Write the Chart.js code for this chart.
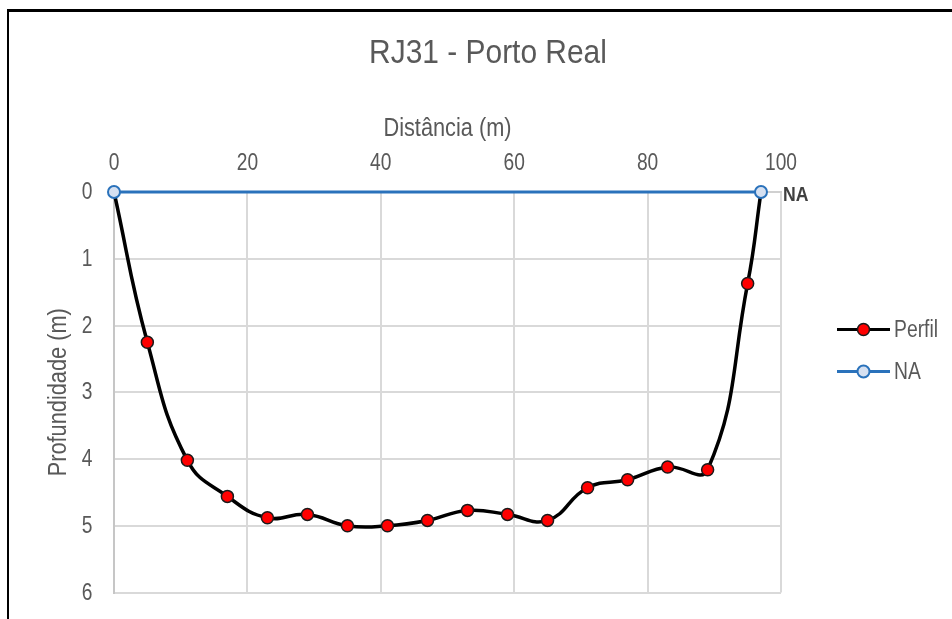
<!DOCTYPE html>
<html lang="pt">
<head>
<meta charset="utf-8">
<title>RJ31 - Porto Real</title>
<script src="https://cdn.jsdelivr.net/npm/chart.js@4"></script>
<style>
  html, body { margin: 0; padding: 0; background: #fff; }
  #wrap { position: relative; width: 952px; height: 619px; overflow: hidden; }
  #frame { position: absolute; left: 7px; top: 9px; width: 1000px; height: 700px;
           border-left: 2px solid #000; border-top: 3px solid #000; }
  canvas { position: absolute; left: 0; top: 0; }
</style>
</head>
<body>
<div id="wrap">
  <div id="frame"></div>
  <canvas id="perfilChart" width="952" height="619"></canvas>
</div>
<script>
// Perfil batimétrico (distância x profundidade)
const perfilDist = [0, 5, 11, 17, 23, 29, 35, 41, 47, 53, 59, 65, 71, 77, 83, 89, 95, 97];
const perfilProf = [0, 2.25, 4.02, 4.56, 4.88, 4.83, 5.0, 5.0, 4.92, 4.77, 4.83, 4.92, 4.43, 4.31, 4.12, 4.16, 1.37, 0];
// Nível d'água
const naDist = [0, 97];
const naProf = [0, 0];

const titulo = "RJ31 - Porto Real";
const tituloX = "Distância (m)";
const tituloY = "Profundidade (m)";
const xTicks = [0, 20, 40, 60, 80, 100];
const yTicks = [0, 1, 2, 3, 4, 5, 6];

const fonte = "'Liberation Sans', Arial, sans-serif";
const cinza = "#595959";

Chart.defaults.font.family = fonte;
Chart.defaults.color = cinza;

function pares(xs, ys) {
    return xs.map((x, i) => ({ x: x, y: ys[i] }));
}

// narrow text: regular face squeezed horizontally
function texto(ctx, str, x, y, font, align, sx, rot) {
    ctx.save();
    ctx.translate(x, y);
    if (rot) ctx.rotate(rot);
    ctx.scale(sx, 1);
    ctx.font = font;
    ctx.textAlign = align;
    ctx.textBaseline = "middle";
    ctx.fillText(str, 0, 0);
    ctx.restore();
}

// title, axis labels, side legend and the "NA" tag
const extras = {
    id: "extras",
    afterDraw(chart) {
        const ctx = chart.ctx;
        const sx = chart.scales.x;
        const sy = chart.scales.y;
        ctx.save();
        ctx.fillStyle = cinza;

        texto(ctx, titulo, 488, 54, "34px " + fonte, "center", 0.88);

        sx.ticks.forEach(t => {
            texto(ctx, String(t.value), sx.getPixelForValue(t.value), 163.5, "24px " + fonte, "center", 0.8);
        });
        sy.ticks.forEach(t => {
            texto(ctx, String(t.value), 92.5, sy.getPixelForValue(t.value) + 0.5, "24px " + fonte, "right", 0.8);
        });
        texto(ctx, tituloX, (sx.left + sx.right) / 2, 129.5, "25px " + fonte, "center", 0.87);
        texto(ctx, tituloY, 59.5, (sy.top + sy.bottom) / 2, "25px " + fonte, "center", 0.87, -Math.PI / 2);

        // legend entries
        const itens = [chart.data.datasets[1], chart.data.datasets[0]];
        itens.forEach((ds, i) => {
            const y = 329.5 + i * 42;
            ctx.strokeStyle = ds.borderColor;
            ctx.lineWidth = 3;
            ctx.beginPath();
            ctx.moveTo(837, y);
            ctx.lineTo(890, y);
            ctx.stroke();
            ctx.beginPath();
            ctx.arc(863.5, y, 6, 0, Math.PI * 2);
            ctx.fillStyle = ds.pointBackgroundColor;
            ctx.fill();
            ctx.lineWidth = ds.pointBorderWidth;
            ctx.strokeStyle = ds.pointBorderColor;
            ctx.stroke();
            ctx.fillStyle = cinza;
            texto(ctx, ds.label, 894, y + 1, "23px " + fonte, "left", 0.84);
        });

        // series name at the end of the water line
        const meta = chart.getDatasetMeta(0);
        const ult = meta.data[meta.data.length - 1];
        ctx.fillStyle = "#404040";
        texto(ctx, "NA", ult.x + 22, ult.y + 3, "bold 21px " + fonte, "left", 0.84);

        ctx.restore();
    }
};

const ctx = document.getElementById("perfilChart").getContext("2d");
new Chart(ctx, {
    type: "scatter",
    data: {
        datasets: [{
            label: "NA",
            data: pares(naDist, naProf),
            showLine: true,
            borderColor: "#2a72bb",
            borderWidth: 3,
            pointRadius: 6,
            pointBackgroundColor: "#d5e0f1",
            pointBorderColor: "#2a72bb",
            pointBorderWidth: 2,
            order: 0,
            clip: false
        }, {
            label: "Perfil",
            data: pares(perfilDist, perfilProf),
            showLine: true,
            tension: 0.45,
            borderColor: "#000000",
            borderWidth: 3.5,
            pointRadius: perfilDist.map((d, i) => (i === 0 || i === perfilDist.length - 1) ? 0 : 6),
            pointBackgroundColor: "#ff0000",
            pointBorderColor: "#1a1a1a",
            pointBorderWidth: 1.5,
            order: 1,
            clip: false
        }]
    },
    options: {
        responsive: false,
        animation: false,
        layout: { padding: { left: 0, top: 84, right: 171, bottom: 26.5 } },
        plugins: {
            legend: { display: false },
            title: { display: false },
            tooltip: { enabled: false }
        },
        scales: {
            x: {
                type: "linear",
                position: "top",
                min: 0,
                max: 100,
                afterBuildTicks: (s) => { s.ticks = xTicks.map(v => ({ value: v })); },
                afterFit: (s) => { s.height = 108; s.paddingLeft = 0; s.paddingRight = 0; },
                ticks: { display: false },
                grid: { color: "#d9d9d9", lineWidth: 2, drawTicks: false },
                border: { color: "#d0d0d0", width: 2 }
            },
            y: {
                type: "linear",
                reverse: true,
                min: 0,
                max: 6,
                afterBuildTicks: (s) => { s.ticks = yTicks.map(v => ({ value: v })); },
                afterFit: (s) => { s.width = 114; s.paddingTop = 0; s.paddingBottom = 0; },
                ticks: { display: false },
                grid: { color: "#d9d9d9", lineWidth: 2, drawTicks: false },
                border: { color: "#c6c6c6", width: 2 }
            }
        }
    },
    plugins: [extras]
});
</script>
</body>
</html>
